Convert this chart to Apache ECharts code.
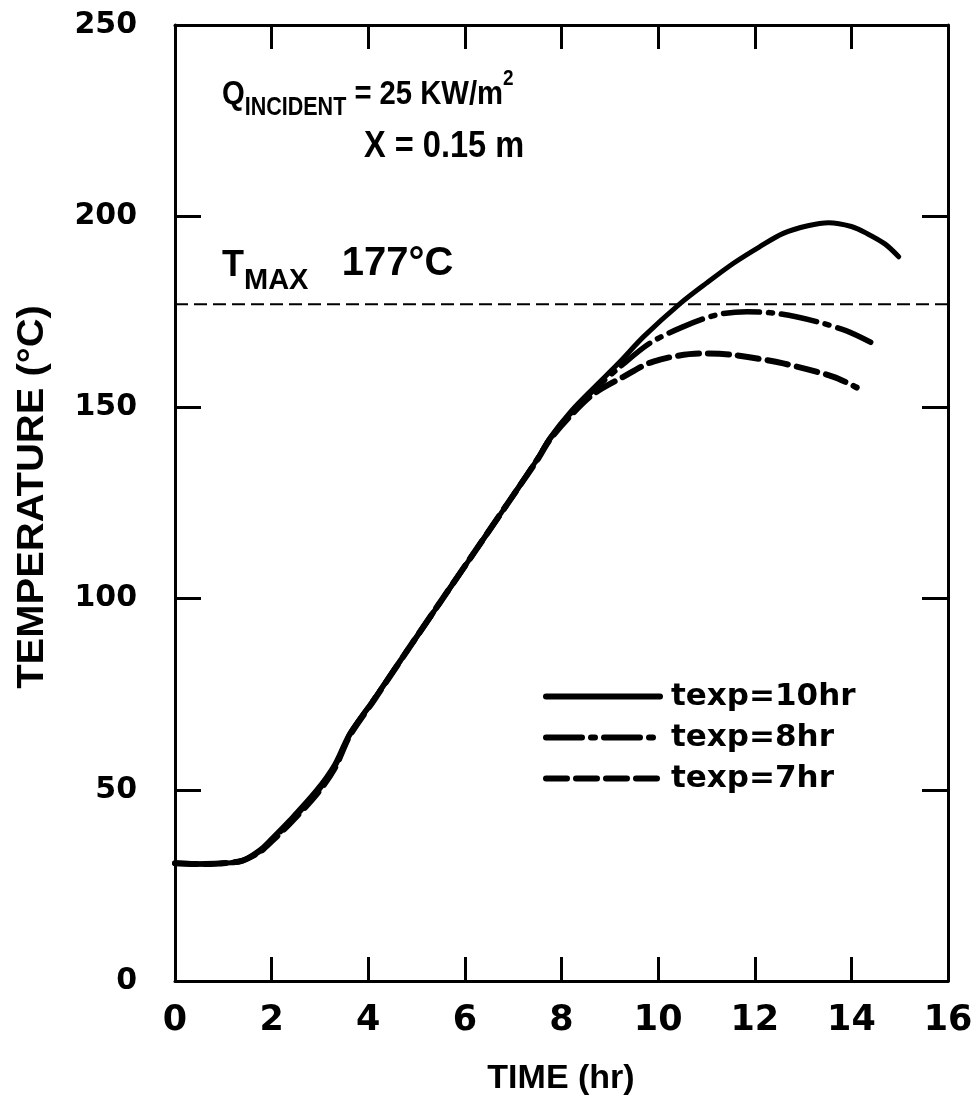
<!DOCTYPE html>
<html>
<head>
<meta charset="utf-8">
<script src="https://cdn.jsdelivr.net/npm/echarts@6/dist/echarts.min.js"></script>
<style>html,body{margin:0;padding:0;background:#fff}#c{width:978px;height:1109px}</style>
</head>
<body>
<div id="c"></div>
<script>
// ---- data ----
const xTicks = [0, 2, 4, 6, 8, 10, 12, 14, 16];
const yTicks = [0, 50, 100, 150, 200, 250];
const seriesNames = ['texp=10hr', 'texp=8hr', 'texp=7hr'];
const time10 = [0, 0.5, 1.0, 1.4, 1.76, 2.0, 2.38, 2.93, 3.3, 3.62, 4.11, 5, 6, 7, 7.5, 7.76, 8.2, 8.66, 9.2, 9.7, 10.46, 11, 11.56, 12.1, 12.59, 13.1, 13.53, 14, 14.32, 14.7, 14.98];
const temp10 = [30.8, 30.6, 30.8, 31.5, 34.3, 37.2, 42.1, 49.9, 56.5, 64.8, 73.5, 90, 108.5, 127, 136.5, 142, 149, 155, 161.8, 168.5, 177.2, 182.5, 187.7, 192, 195.5, 197.5, 198.3, 197.3, 195.5, 192.7, 189.4];
const time8 = [0, 0.5, 1.0, 1.4, 1.76, 2.0, 2.38, 2.93, 3.3, 3.62, 4.11, 5, 6, 7, 7.5, 7.76, 8.2, 8.66, 9.2, 9.83, 10.5, 11.21, 11.84, 12.5, 13.29, 13.9, 14.42];
const temp8 = [30.8, 30.6, 30.8, 31.5, 34.0, 36.8, 41.6, 49.3, 56.0, 64.5, 73.5, 90, 108.5, 127, 136.5, 141.8, 148.6, 154.5, 160.5, 166.8, 171, 174.2, 175, 174.5, 172.4, 170, 166.9];
const time7 = [0, 0.5, 1.0, 1.4, 1.76, 2.0, 2.38, 2.93, 3.3, 3.62, 4.11, 5, 6, 7, 7.5, 7.76, 8.2, 8.66, 9.28, 9.9, 10.87, 11.56, 12.59, 13.63, 14.11];
const temp7 = [30.8, 30.6, 30.8, 31.5, 33.8, 36.5, 41.2, 48.8, 55.5, 64.2, 73.3, 90, 108.5, 127, 136.3, 141.6, 148, 153.5, 158, 162, 164.1, 163.7, 161.5, 158, 155.2];
const tmax = 177;

const pairs = (xs, ys) => xs.map((x, i) => [x, ys[i]]);

const chart = echarts.init(document.getElementById('c'), null, {renderer: 'canvas'});
const tickStyle = {color: '#000', width: 3};
const axisLineStyle = {show: true, onZero: false, lineStyle: {color: '#000', width: 3}};
const option = {
  animation: false,
  backgroundColor: '#fff',
  grid: {left: 175, right: 30, top: 25, bottom: 128},
  xAxis: [
    {
      type: 'value', min: 0, max: 16, interval: 2, position: 'bottom',
      axisLine: axisLineStyle, splitLine: {show: false},
      axisTick: {show: true, inside: true, length: 24, lineStyle: tickStyle},
      axisLabel: {show: true, margin: 22, color: '#000', fontFamily: 'DejaVu Sans', fontWeight: 'bold', fontSize: 35,
        formatter: v => xTicks.includes(v) ? String(v) : ''}
    },
    {
      type: 'value', min: 0, max: 16, interval: 2, position: 'top',
      axisLine: axisLineStyle, splitLine: {show: false},
      axisTick: {show: true, inside: true, length: 24, lineStyle: tickStyle},
      axisLabel: {show: false}
    }
  ],
  yAxis: [
    {
      type: 'value', min: 0, max: 250, interval: 50, position: 'left',
      axisLine: axisLineStyle, splitLine: {show: false},
      axisTick: {show: true, inside: true, length: 26, lineStyle: tickStyle},
      axisLabel: {show: true, margin: 38, color: '#000', fontFamily: 'DejaVu Sans', fontWeight: 'bold', fontSize: 30,
        formatter: v => yTicks.includes(v) ? String(v) : ''}
    },
    {
      type: 'value', min: 0, max: 250, interval: 50, position: 'right',
      axisLine: axisLineStyle, splitLine: {show: false},
      axisTick: {show: true, inside: true, length: 26, lineStyle: tickStyle},
      axisLabel: {show: false}
    }
  ],
  legend: {
    show: true,
    orient: 'vertical',
    left: 538, top: 676,
    itemWidth: 114, itemHeight: 20, itemGap: 10,
    data: seriesNames,
    itemStyle: {opacity: 0},
    lineStyle: {width: 6, type: 'inherit', color: '#000'},
    textStyle: {color: '#000', fontFamily: 'DejaVu Sans', fontWeight: 'bold', fontSize: 31, padding: [0, 0, 0, 6]}
  },
  series: [
    {
      name: 'Tmax', type: 'line', symbol: 'none', silent: true,
      data: [[xTicks[0], tmax], [xTicks[xTicks.length - 1], tmax]],
      lineStyle: {color: '#000', width: 2, type: [13, 6]}, z: 1
    },
    {
      name: seriesNames[0], type: 'line', symbol: 'none', smooth: 0.3,
      data: pairs(time10, temp10),
      lineStyle: {color: '#000', width: 5, type: 'solid', cap: 'round'}, itemStyle: {color: '#000'}, z: 3
    },
    {
      name: seriesNames[1], type: 'line', symbol: 'none', smooth: 0.3,
      data: pairs(time8, temp8),
      lineStyle: {color: '#000', width: 5.5, type: [36, 9, 4, 9], cap: 'round'}, itemStyle: {color: '#000'}, z: 2
    },
    {
      name: seriesNames[2], type: 'line', symbol: 'none', smooth: 0.3,
      data: pairs(time7, temp7),
      lineStyle: {color: '#000', width: 6, type: [21, 9], cap: 'round'}, itemStyle: {color: '#000'}, z: 2
    }
  ],
  graphic: [
    {
      type: 'text', x: 222, y: 112, scaleX: 0.86,
      style: {
        text: '{a|Q}{b|INCIDENT}{a| = 25 KW/m}{c|2}',
        fill: '#000', verticalAlign: 'bottom',
        rich: {
          a: {fontFamily: 'Liberation Sans', fontWeight: 'bold', fontSize: 34, fill: '#000', verticalAlign: 'bottom', lineHeight: 44},
          b: {fontFamily: 'Liberation Sans', fontWeight: 'bold', fontSize: 25, fill: '#000', verticalAlign: 'bottom', padding: [0, 0, -9, 0], lineHeight: 44},
          c: {fontFamily: 'Liberation Sans', fontWeight: 'bold', fontSize: 22, fill: '#000', verticalAlign: 'top', lineHeight: 44}
        }
      }
    },
    {
      type: 'text', x: 364, y: 128, scaleX: 0.88,
      style: {text: 'X = 0.15 m', fill: '#000', font: 'bold 37px "Liberation Sans"'}
    },
    {
      type: 'text', x: 222, y: 284,
      style: {
        text: '{a|T}{b|MAX}{d|   177°C}',
        fill: '#000', verticalAlign: 'bottom',
        rich: {
          a: {fontFamily: 'Liberation Sans', fontWeight: 'bold', fontSize: 36, fill: '#000', verticalAlign: 'bottom', lineHeight: 46},
          b: {fontFamily: 'Liberation Sans', fontWeight: 'bold', fontSize: 29, fill: '#000', verticalAlign: 'bottom', padding: [0, 0, -11, 0], lineHeight: 46},
          d: {fontFamily: 'Liberation Sans', fontWeight: 'bold', fontSize: 40, fill: '#000', verticalAlign: 'bottom', lineHeight: 46}
        }
      }
    },
    {
      type: 'text', x: 33, y: 497, rotation: Math.PI / 2, scaleX: 1.08,
      style: {text: 'TEMPERATURE (°C)', fill: '#000', font: 'bold 37px "Liberation Sans"', align: 'center', verticalAlign: 'middle'}
    },
    {
      type: 'text', x: 561, y: 1079,
      style: {text: 'TIME (hr)', fill: '#000', font: 'bold 34px "Liberation Sans"', align: 'center', verticalAlign: 'middle'}
    }
  ]
};
chart.setOption(option);
</script>
</body>
</html>
